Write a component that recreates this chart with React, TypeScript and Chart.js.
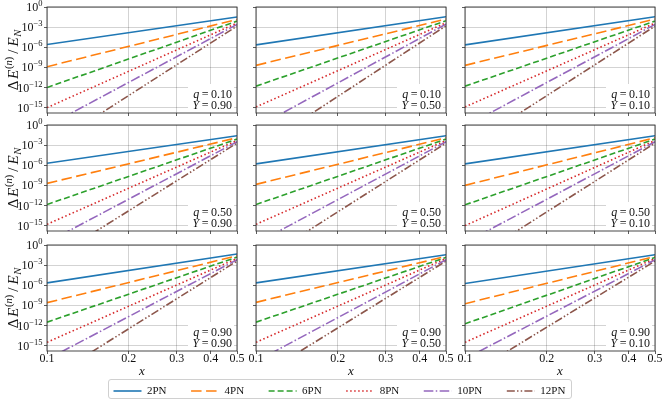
import React, { useEffect, useRef } from "react";
import { Chart, registerables } from "chart.js";

Chart.register(...registerables);

const FONT = "'Liberation Serif', 'Times New Roman', serif";
Chart.defaults.font.family = FONT;
Chart.defaults.color = "#111";

// ---- data ----
const xValues = [0.1, 0.5];
const xTicks = [0.1, 0.2, 0.3, 0.4, 0.5];
const yTickExponents = [0, -3, -6, -9, -12, -15];
const yMinExp = -15.8;

const seriesLabels = ["2PN", "4PN", "6PN", "8PN", "10PN", "12PN"];
const seriesColors = ["#1f77b4", "#ff7f0e", "#2ca02c", "#d62728", "#9467bd", "#8c564b"];
const seriesDashes = [[], [10.5, 4.5], [6, 3], [1.5, 2.5], [9.6, 2.4, 1.5, 2.4], [8, 2.2, 1.5, 2.2, 1.5, 2.2]];

const qValues = ["0.10", "0.50", "0.90"]; // rows
const yValues = ["0.90", "0.50", "0.10"]; // columns

// log10(ΔE/E_N) at x = 0.1, one row per panel (row-major), one entry per series
const startExp = [
  [-5.6, -8.9, -12.0, -15.0, -17.75, -21.0],
  [-5.65, -8.7, -11.8, -14.9, -17.95, -21.3],
  [-5.65, -8.7, -11.8, -14.9, -17.8, -21.05],
  [-5.7, -8.7, -11.85, -14.8, -17.5, -20.4],
  [-5.8, -8.85, -11.85, -14.8, -17.65, -20.7],
  [-5.8, -9.0, -11.9, -15.0, -17.55, -20.7],
  [-5.65, -8.6, -11.5, -14.5, -17.05, -20.1],
  [-5.65, -8.55, -11.5, -14.5, -17.35, -19.9],
  [-5.75, -8.75, -11.75, -14.5, -16.95, -19.7],
];

// log10(ΔE/E_N) at x = 0.5
const endExp = [
  [-1.5, -1.85, -2.1, -2.4, -2.6, -2.85],
  [-1.45, -1.8, -2.05, -2.35, -2.55, -2.8],
  [-1.45, -1.8, -2.1, -2.4, -2.6, -2.85],
  [-1.6, -1.9, -2.1, -2.3, -2.5, -2.7],
  [-1.6, -1.9, -2.1, -2.3, -2.5, -2.7],
  [-1.6, -1.9, -2.1, -2.3, -2.5, -2.7],
  [-1.35, -1.6, -1.8, -2.0, -2.2, -2.4],
  [-1.45, -1.7, -1.85, -2.0, -2.2, -2.4],
  [-1.45, -1.7, -1.85, -2.0, -2.2, -2.4],
];

// ---- layout ----
const colLeft = [47, 256, 465];
const rowTop = [7, 125, 245];
const plotW = 190;
const plotH = 106;
const gridColor = "rgba(0,0,0,0.22)";

type Run = { text: string; size: number; italic?: boolean; dy?: number; gap?: number };

const fontOf = (r: Run) => `${r.italic ? "italic " : ""}${r.size}px ${FONT}`;

function drawRuns(ctx: CanvasRenderingContext2D, runs: Run[], x: number, y: number, align: "left" | "right" | "center") {
  let w = 0;
  runs.forEach((r) => {
    ctx.font = fontOf(r);
    w += (r.gap || 0) + ctx.measureText(r.text).width;
  });
  let cx = align === "right" ? x - w : align === "center" ? x - w / 2 : x;
  ctx.textAlign = "left";
  ctx.textBaseline = "alphabetic";
  runs.forEach((r) => {
    ctx.font = fontOf(r);
    cx += r.gap || 0;
    ctx.fillText(r.text, cx, y + (r.dy || 0));
    cx += ctx.measureText(r.text).width;
  });
}

function Panel({ row, col }: { row: number; col: number }) {
  const ref = useRef<HTMLCanvasElement>(null);
  const p = row * 3 + col;
  const left = col === 0 ? 0 : colLeft[col] - 10;
  const top = rowTop[row] - 7;
  const axisW = colLeft[col] - left;
  const axisH = row === 2 ? 27 : 5;
  const width = axisW + plotW + 10;
  const height = 7 + plotH + axisH;

  useEffect(() => {
    if (!ref.current) return;

    const decor = {
      id: "decor",
      beforeDatasetsDraw(chart: Chart) {
        const { ctx, chartArea: a } = chart;
        ctx.save();
        ctx.fillStyle = "#fff";
        ctx.fillRect(a.right - 49, a.bottom - 29, 46, 28);
        ctx.fillStyle = "#111";
        drawRuns(ctx, [
          { text: "q", size: 12, italic: true },
          { text: "=", size: 12, gap: 2.5 },
          { text: qValues[row], size: 12, gap: 2.5 },
        ], a.right - 5, a.bottom - 15, "right");
        drawRuns(ctx, [
          { text: "Y", size: 12, italic: true },
          { text: "=", size: 12, gap: 2.5 },
          { text: yValues[col], size: 12, gap: 2.5 },
        ], a.right - 5, a.bottom - 4, "right");
        ctx.restore();
      },
      afterDatasetsDraw(chart: Chart) {
        const { ctx, chartArea: a } = chart;
        ctx.save();
        ctx.strokeStyle = "#333";
        ctx.lineWidth = 0.9;
        ctx.strokeRect(a.left, a.top, a.right - a.left, a.bottom - a.top);
        ctx.restore();
      },
      afterDraw(chart: Chart) {
        const { ctx, chartArea: a } = chart;
        const ys = chart.scales.y;
        const xs = chart.scales.x;
        ctx.save();
        ctx.fillStyle = "#111";
        if (col === 0) {
          yTickExponents.forEach((e) => {
            const py = ys.getPixelForValue(10 ** e);
            drawRuns(ctx, [
              { text: "10", size: 12 },
              { text: e === 0 ? "0" : "\u2212" + String(-e), size: 8.5, dy: -5 },
            ], a.left - 4.5, py + 4, "right");
          });
          ctx.save();
          ctx.translate(13, (a.top + a.bottom) / 2);
          ctx.rotate(-Math.PI / 2);
          drawRuns(ctx, [
            { text: "\u0394", size: 15 },
            { text: "E", size: 15, italic: true, gap: 1.5 },
            { text: "(", size: 10.5, dy: -6, gap: 1 },
            { text: "n", size: 10.5, italic: true, dy: -6 },
            { text: ")", size: 10.5, dy: -6 },
            { text: "/", size: 15, gap: 3 },
            { text: "E", size: 15, italic: true, gap: 3 },
            { text: "N", size: 10.5, italic: true, dy: 3, gap: 0.5 },
          ], 0, 5, "center");
          ctx.restore();
        }
        if (row === 2) {
          xTicks.forEach((v) => {
            drawRuns(ctx, [{ text: v.toFixed(1), size: 12 }], xs.getPixelForValue(v), a.bottom + 11, "center");
          });
          drawRuns(ctx, [{ text: "x", size: 13, italic: true }], (a.left + a.right) / 2, a.bottom + 24, "center");
        }
        ctx.restore();
      },
    };

    const chart = new Chart(ref.current, {
      type: "line",
      data: {
        datasets: seriesLabels.map((label, i) => ({
          label,
          data: [
            { x: xValues[0], y: 10 ** startExp[p][i] },
            { x: xValues[1], y: 10 ** endExp[p][i] },
          ],
          borderColor: seriesColors[i],
          backgroundColor: seriesColors[i],
          borderWidth: 1.6,
          borderDash: seriesDashes[i],
          pointRadius: 0,
          fill: false,
        })),
      },
      options: {
        animation: false,
        responsive: false,
        events: [],
        layout: { padding: { top: 7, right: 10, left: 0, bottom: 0 } },
        scales: {
          x: {
            type: "logarithmic",
            min: 0.1,
            max: 0.5,
            afterBuildTicks: (s: any) => {
              s.ticks = xTicks.map((v) => ({ value: v }));
            },
            afterFit: (s: any) => {
              s.height = axisH;
            },
            ticks: { display: false },
            grid: { color: gridColor, lineWidth: 0.8, tickColor: "#333", tickLength: 3, tickWidth: 0.8 },
            border: { display: false },
          },
          y: {
            type: "logarithmic",
            min: 10 ** yMinExp,
            max: 1,
            afterBuildTicks: (s: any) => {
              s.ticks = yTickExponents.map((e) => ({ value: 10 ** e }));
            },
            afterFit: (s: any) => {
              s.width = axisW;
            },
            ticks: { display: false },
            grid: { color: gridColor, lineWidth: 0.8, tickColor: "#333", tickLength: 3, tickWidth: 0.8 },
            border: { display: false },
          },
        },
        plugins: { legend: { display: false }, tooltip: { enabled: false } },
      },
      plugins: [decor],
    });

    return () => {
      chart.destroy();
    };
  }, [row, col]);

  return <canvas ref={ref} width={width} height={height} style={{ position: "absolute", left, top }} />;
}

function Legend() {
  const ref = useRef<HTMLCanvasElement>(null);

  useEffect(() => {
    if (!ref.current) return;
    const chart = new Chart(ref.current, {
      type: "line",
      data: {
        datasets: seriesLabels.map((label, i) => ({
          label,
          data: [],
          borderColor: seriesColors[i],
          borderDash: seriesDashes[i],
          borderWidth: 1.6,
        })),
      },
      options: {
        animation: false,
        responsive: false,
        events: [],
        layout: { padding: 0 },
        scales: { x: { display: false }, y: { display: false } },
        plugins: {
          tooltip: { enabled: false },
          legend: {
            display: true,
            position: "top",
            align: "start",
            labels: {
              usePointStyle: true,
              pointStyle: "line",
              pointStyleWidth: 28,
              padding: 24.5,
              color: "#111",
              font: { size: 11 },
              generateLabels: () =>
                seriesLabels.map((text, i) => ({
                  text,
                  strokeStyle: seriesColors[i],
                  fillStyle: seriesColors[i],
                  fontColor: "#111",
                  lineWidth: 1.6,
                  lineDash: seriesDashes[i],
                  pointStyle: "line",
                  hidden: false,
                  datasetIndex: i,
                })),
            },
          },
        },
      },
    });
    return () => {
      chart.destroy();
    };
  }, []);

  return (
    <div
      style={{
        position: "absolute",
        left: 108,
        top: 379,
        width: 462,
        height: 18,
        border: "1px solid #d0d0d0",
        borderRadius: 3,
        overflow: "hidden",
        background: "#fff",
      }}
    >
      <canvas ref={ref} width={560} height={80} style={{ position: "absolute", left: -20.5, top: -19.5 }} />
    </div>
  );
}

export default function App() {
  const panels: React.ReactNode[] = [];
  for (let r = 0; r < 3; r++) {
    for (let c = 0; c < 3; c++) {
      panels.push(<Panel key={`${r}-${c}`} row={r} col={c} />);
    }
  }
  return (
    <div style={{ position: "fixed", left: 0, top: 0, width: 665, height: 404, background: "#fff", overflow: "hidden" }}>
      {panels}
      <Legend />
    </div>
  );
}
